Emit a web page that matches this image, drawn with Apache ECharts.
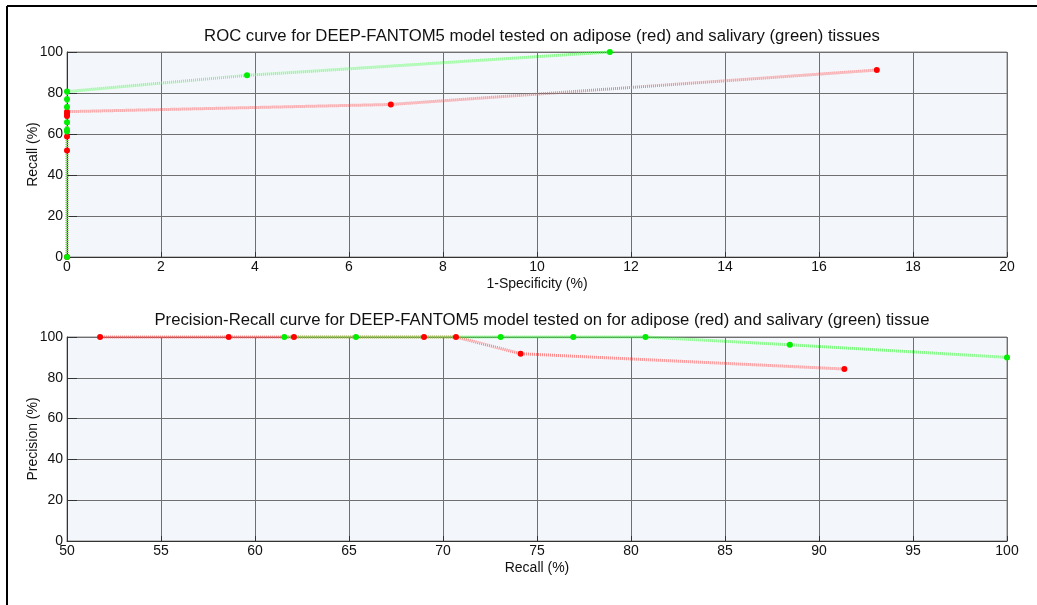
<!DOCTYPE html>
<html>
<head>
<meta charset="utf-8">
<script src="https://cdn.jsdelivr.net/npm/echarts@6/dist/echarts.min.js"></script>
<style>
  html, body { margin: 0; padding: 0; background: #fff; }
  #chartBox { width: 1037px; height: 605px; }
</style>
</head>
<body>
<div id="chartBox"></div>
<script>
// ROC: [1-specificity, recall]
var rocRed = [[0, 0], [0, 51.9], [0, 58.8], [0, 68.8], [0, 69.8], [0, 70.9], [6.89, 74.4], [17.23, 91.2]];
var rocGreen = [[0, 0], [0, 61.2], [0, 62.1], [0, 65.7], [0, 73.2], [0, 77.0], [0, 80.7], [3.83, 88.6], [11.55, 100]];
// PR: [recall, precision]
var prRed = [[51.76, 100], [58.6, 100], [62.07, 100], [68.99, 100], [70.69, 100], [74.13, 91.8], [91.35, 84.3]];
var prGreen = [[61.56, 100], [65.37, 100], [73.07, 100], [76.93, 100], [80.77, 100], [88.45, 96.2], [100, 90.0]];

var rocXTicks = [0, 20, 2];   // min, max, interval
var prXTicks = [50, 100, 5];
var yTicks = [0, 100, 20];

var font = "'Liberation Sans', Arial, Helvetica, sans-serif";

function xAxis(idx, t, name, nameGap) {
  return {
    type: "value", gridIndex: idx, min: t[0], max: t[1], interval: t[2],
    name: name, nameLocation: "middle", nameGap: nameGap,
    nameTextStyle: { fontFamily: font, fontSize: 14, color: "#111" },
    axisLine: { show: true, onZero: false, lineStyle: { color: "#333" } },
    axisTick: { inside: true, length: 5, lineStyle: { color: "#333" } },
    axisLabel: { fontFamily: font, fontSize: 14, color: "#111", margin: 3 },
    splitLine: { show: true, lineStyle: { color: "#6f6f6f" } },
  };
}
function yAxis(idx, name) {
  return {
    type: "value", gridIndex: idx, min: yTicks[0], max: yTicks[1], interval: yTicks[2],
    name: name, nameLocation: "middle", nameGap: 27, nameMoveOverlap: false,
    nameTextStyle: { fontFamily: font, fontSize: 14, color: "#111" },
    axisLine: { show: true, onZero: false, lineStyle: { color: "#333" } },
    axisTick: { inside: true, length: 10, lineStyle: { color: "#333" } },
    axisLabel: { fontFamily: font, fontSize: 14, color: "#111", margin: 4 },
    splitLine: { show: true, lineStyle: { color: "#6f6f6f" } },
  };
}
function curve(idx, data, lineColor, dotColor) {
  return {
    type: "line", xAxisIndex: idx, yAxisIndex: idx, data: data,
    symbol: "circle", symbolSize: 6, clip: false,
    itemStyle: { color: dotColor },
    lineStyle: { color: lineColor, width: 3, type: [1, 1], opacity: 0.75 },
    emphasis: { disabled: true },
  };
}

var myChart = echarts.init(document.getElementById("chartBox"));
myChart.setOption({
  animation: false,
  title: [
    {
      text: "ROC curve for DEEP-FANTOM5 model tested on adipose (red) and salivary (green) tissues",
      left: 537, top: 23, textAlign: "center",
      textStyle: { fontFamily: font, fontSize: 16.7, fontWeight: "normal", color: "#111" },
    },
    {
      text: "Precision-Recall curve for DEEP-FANTOM5 model tested on for adipose (red) and salivary (green) tissue",
      left: 537, top: 307, textAlign: "center",
      textStyle: { fontFamily: font, fontSize: 16.7, fontWeight: "normal", color: "#111" },
    },
  ],
  grid: [
    { left: 67, top: 52, width: 940, height: 205, show: true, backgroundColor: "#f3f7fc", borderColor: "#888", borderWidth: 1 },
    { left: 67, top: 337, width: 940, height: 204, show: true, backgroundColor: "#f3f7fc", borderColor: "#888", borderWidth: 1 },
  ],
  xAxis: [xAxis(0, rocXTicks, "1-Specificity (%)", 20), xAxis(1, prXTicks, "Recall (%)", 20)],
  yAxis: [yAxis(0, "Recall (%)"), yAxis(1, "Precision (%)")],
  series: [
    curve(0, rocRed, "#ff5a5a", "#ff0000"),
    curve(0, rocGreen, "#4cff4c", "#00ee00"),
    curve(1, prRed, "#ff5a5a", "#ff0000"),
    curve(1, prGreen, "#4cff4c", "#00ee00"),
  ],
  // outer frame (top and left edges)
  graphic: [
    { type: "line", shape: { x1: 7, y1: 6, x2: 1037, y2: 6 }, style: { stroke: "#000", lineWidth: 2 } },
    { type: "line", shape: { x1: 7, y1: 6, x2: 7, y2: 605 }, style: { stroke: "#000", lineWidth: 2 } },
  ],
});
</script>
</body>
</html>
